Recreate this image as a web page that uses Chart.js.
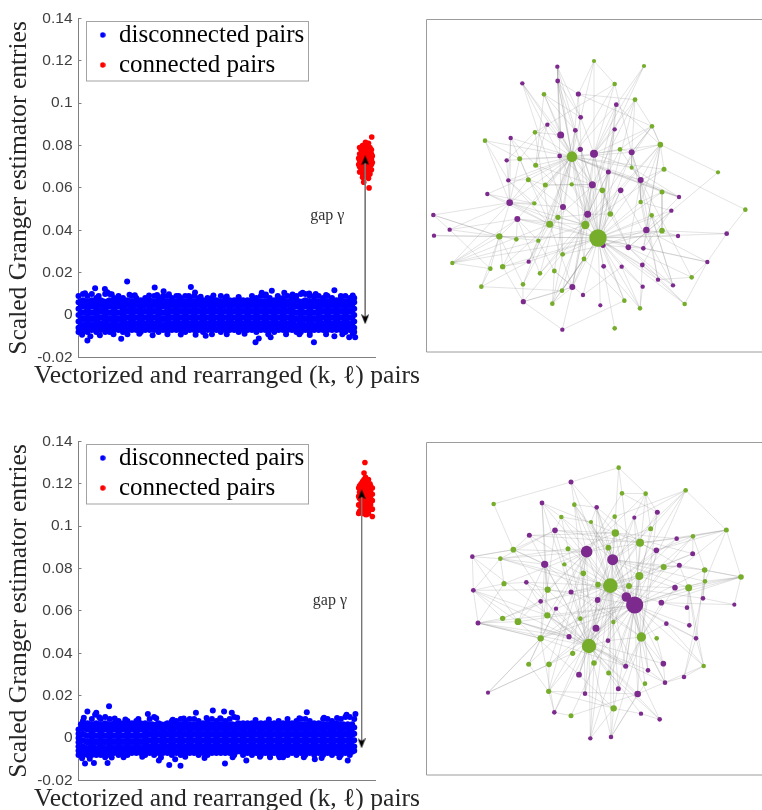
<!DOCTYPE html>
<html><head><meta charset="utf-8">
<style>html,body{margin:0;padding:0;background:#fff;width:762px;height:810px;overflow:hidden}canvas{position:absolute;display:block}</style>
<script src="https://cdn.jsdelivr.net/npm/chart.js@4"></script></head>
<body>
<canvas id="topScatter" width="454" height="395" style="left:0;top:0"></canvas>
<canvas id="topNetwork" width="342" height="350" style="left:420px;top:10px"></canvas>
<canvas id="bottomScatter" width="454" height="395" style="left:0;top:423px"></canvas>
<canvas id="bottomNetwork" width="342" height="350" style="left:420px;top:435px"></canvas>
<script>
// ---- shared labels ----
const yTickLabels = ['-0.02','0','0.02','0.04','0.06','0.08','0.1','0.12','0.14'];
const seriesNames = ['disconnected pairs','connected pairs'];
const xAxisTitle = 'Vectorized and rearranged (k, \u2113) pairs';
const yAxisTitle = 'Scaled Granger estimator entries';
const gapLabel = 'gap \u03B3';
// ---- scatter values: ranks in 1/1000 of axis, values in 1/1000 ----
const blueRanks = [0,15,30,45,60,75,90,105,120,135,150,165,180,195,210,225,240,255,270,285,300,315,330,345,360,375,390,405,420,435,450,465,480,495,510,525,540,555,570,585,600,615,630,645,660,675,690,705,720,735,750,765,780,795,810,825,840,855,870,885,900,915,930];
const blueFillRanks = [8,23,38,53,68,83,98,113,128,143,158,173,188,203,218,233,248,263,278,293,308,323,338,353,368,383,398,413,428,443,458,473,488,503,518,533,548,563,578,593,608,623,638,653,668,683,698,713,728,743,758,773,788,803,818,833,848,863,878,893,908,923];
const blueFillValues = [6.5,4.5,1.5,-1.5,-4.5,-6.5];
const topBlue = [
[9,6,3,0,-3,-6,-8],[10,7,4,1,-2,-5,-8],[9,6,3,0,-3,-6,-8],[10,7,4,1,-2,-5,-7],[8,6,3,0,-3,-6,-8],[7,5,2,-1,-4,-7],[10,6,3,0,-3,-6,-8],[10,7,4,1,-2,-5,-8],[8,6,3,0,-3,-6,-7],[9,7,4,1,-2,-5,-7],[8,6,3,0,-3,-6,-8],[7,5,2,-1,-4,-7],[9,6,3,0,-3,-6,-7],[8,5,2,-1,-4,-7],[7,6,3,0,-3,-6,-8],[8,5,2,-1,-4,-7],[7,6,3,0,-3,-6,-7],[9,5,2,-1,-4,-7],[8,6,3,0,-3,-6,-8],[9,7,4,1,-2,-5,-7],[9,6,3,0,-3,-6,-8],[8,5,2,-1,-4,-7],[9,6,3,0,-3,-6,-7],[8,5,2,-1,-4,-7],[9,6,3,0,-3,-6,-8],[8,5,2,-1,-4,-7],[9,6,3,0,-3,-6,-7],[8,5,2,-1,-4,-7],[7,6,3,0,-3,-6,-8],[8,5,2,-1,-4,-7],[8,6,3,0,-3,-6,-7],[7,5,2,-1,-4,-7],[9,6,3,0,-3,-6,-8],[8,5,2,-1,-4,-7],[7,6,3,0,-3,-6,-7],[7,5,2,-1,-4,-7],[8,6,3,0,-3,-6,-8],[7,5,2,-1,-4,-7],[7,6,3,0,-3,-6,-7],[7,5,2,-1,-4,-7],[8,6,3,0,-3,-6,-8],[9,5,2,-1,-4,-7],[9,6,3,0,-3,-6,-7],[8,5,2,-1,-4,-7],[7,6,3,0,-3,-6,-8],[8,5,2,-1,-4,-7],[8,6,3,0,-3,-6,-7],[9,5,2,-1,-4,-7],[8,6,3,0,-3,-6,-7],[9,7,4,1,-2,-5,-8],[10,6,3,0,-3,-6,-8],[10,7,4,1,-2,-5,-7],[9,6,3,0,-3,-6,-8],[9,7,4,1,-2,-5,-7],[9,6,3,0,-3,-6,-7],[8,5,2,-1,-4,-7],[9,6,3,0,-3,-6,-7],[8,5,2,-1,-4,-7],[7,6,3,0,-3,-6,-7],[8,5,2,-1,-4,-7],[9,6,3,0,-3,-6,-8],[8,5,2,-1,-4,-7],[8,6,3,0,-3,-6,-8]
];
const topBlueOutlierRanks = [164,379,257,56,89,863,652,694,393,756,618,287,30,144,794,597,608,429,863,913,933,648,22,68,97,112,172,190,238,265,305,338,372,412,455,500,540,585,632,672,722,778,800,835,885,925,12,40,72,118,165,205,250,300,345,395,450,500,560,640,700,745,780,835,890,925];
const topBlueOutlierValues = [15.9,13.3,13,12.6,12.3,11.7,11.5,10.5,10.6,10.5,10.5,11.3,-12,-11.2,-12.8,-12.8,-11,-9.8,-10,-10.5,-10.5,-10.5,10.3,9,10.8,9.8,9.6,9.4,9.2,9.5,9.8,9,9,8.6,9.2,8.8,8.5,9,9.7,9,9.7,10.2,9.9,9.5,9,9.2,-9.3,-10,-9.5,-9,-9,-8.8,-9.5,-9,-9.2,-9.3,-9,-9,-8.8,-9,-9,-9,-9.4,-9,-9,-8.8];
const topRedRanks = [948,948,948,948,948,958,958,958,958,958,958,958,968,968,968,968,968,968,968,978,978,978,978,978,978,978,988,988,988,988,988,989,980,962,953,953,953,953,963,963,963,963,963,973,973,973,973,973,973,983,983,983,983,983,983,945,945,991,991];
const topRedValues = [79,76,73,70,67.5,80,77,74.5,72,69,66.5,65,81.5,79,76,73.5,71,68.5,66,81,78,75,72,69.5,67,64.5,78,76,73.5,71,68.5,84,60,62.7,78,75,72,69,78,75.5,73,70.5,68,80,77.5,75,72.5,70,67.5,79,76.5,74,71.5,69,66.5,74,71,75,72];
const topArrowRank = [967,967];
const topArrowValues = [73,-2];
const topGapPosition = [839,47];

const bottomBlue = [
[4,2,0,-2,-4,-6,-8],[8,5,2,-1,-4,-7,-8],[7,4,1,-2,-5,-8],[9,6,3,0,-3,-6,-8],[12,7,4,1,-2,-5,-8],[9,6,3,0,-3,-6,-8],[10,7,4,1,-2,-5,-7],[9,6,3,0,-3,-6,-8],[7,4,1,-2,-5,-7],[8,6,3,0,-3,-6,-8],[7,4,1,-2,-5,-7],[8,6,3,0,-3,-6,-8],[7,4,1,-2,-5,-7],[8,6,3,0,-3,-6,-7],[7,4,1,-2,-5,-7],[7,6,3,0,-3,-6,-8],[9,5,2,-1,-4,-7],[10,6,3,0,-3,-6,-8],[7,5,2,-1,-4,-7],[6,3,0,-3,-5,-7],[7,5,2,-1,-4,-7],[8,6,3,0,-3,-6,-8],[8,5,2,-1,-4,-7],[9,6,3,0,-3,-6,-8],[8,5,2,-1,-4,-7],[9,6,3,0,-3,-6,-7],[9,5,2,-1,-4,-7],[8,6,3,0,-3,-6,-8],[7,5,2,-1,-4,-7],[8,6,3,0,-3,-6,-8],[9,5,2,-1,-4,-7],[8,6,3,0,-3,-6,-7],[9,5,2,-1,-4,-7],[8,6,3,0,-3,-6,-7],[9,5,2,-1,-4,-7],[10,6,3,0,-3,-6,-8],[7,5,2,-1,-4,-6],[7,6,3,0,-3,-6,-8],[7,5,2,-1,-4,-7],[7,6,3,0,-3,-6,-8],[7,5,2,-1,-4,-7],[7,6,3,0,-3,-6,-8],[7,5,2,-1,-4,-7],[7,6,3,0,-3,-6,-8],[7,5,2,-1,-4,-7],[8,6,3,0,-3,-6,-8],[7,5,2,-1,-4,-7],[7,6,3,0,-3,-6,-8],[7,5,2,-1,-4,-7],[8,6,3,0,-3,-6,-8],[9,5,2,-1,-4,-7],[9,6,3,0,-3,-6,-8],[8,5,2,-1,-4,-7],[7,6,3,0,-3,-6,-8],[7,5,2,-1,-4,-7],[9,6,3,0,-3,-6,-8],[9,5,2,-1,-4,-7],[8,6,3,0,-3,-6,-8],[7,5,2,-1,-4,-7],[9,6,3,0,-3,-6,-8],[10,5,2,-1,-4,-7],[10,6,3,0,-3,-6,-8],[9,5,2,-1,-4,-6]
];
const bottomBlueOutlierRanks = [103,30,453,770,491,396,56,934,904,234,517,22,52,98,271,306,344,494,566,908,326,797,90,646,678,18,70,122,158,202,262,318,355,432,478,535,597,642,705,745,828,872,12,38,112,152,215,278,360,425,520,612,690,760,820,880];
const bottomBlueOutlierValues = [15,12.5,13,12.2,12.5,12,11,11.4,11,11.4,12,-12,-11.7,-11.7,-10.6,-12.7,-13,-12,-10.6,-10.6,-10,-10,-9,-9,-9,9.6,9.8,9.2,8.8,9,9.3,8.6,9.2,9.5,9.4,9.6,8.5,8.8,9,9.4,9.6,9.5,-9.5,-9.8,-9.2,-9,-8.8,-9.2,-8.8,-9.4,-9,-8.8,-9,-9.1,-9.4,-9];
const bottomRedRanks = [948,948,948,948,948,958,958,958,958,958,958,968,968,968,968,968,968,968,978,978,978,978,978,978,985,985,985,985,966,963,991,972,953,953,953,953,953,963,963,963,963,963,963,973,973,973,973,973,973,983,983,983,983,983,991,991,991,991,945,945,945,945];
const bottomRedValues = [119,116,113,110,107,121,118,115,112,109,106,123,120,117,114,111,108,105.5,122,119,116,113,110,106,119,116,113,110,130,125,104.5,105.5,120,117,114,111,108,122,119,116,113,110,107,121,118,115,112,109,106.5,120,117,114,111,108,118,115,112,108,118,114,110,106];
const bottomArrowRank = [955,955];
const bottomArrowValues = [115,-2.5];
const bottomGapPosition = [848,64.8];

// ---- network nodes: positions on a 0..1026 plane, node radius ----
const topPurpleX = [412,307,413,475,589,482,382,466,584,422,272,522,481,419,635,260,565,265,662,517,602,202,777,269,429,754,503,40,292,89,679,42,774,920,549,625,670,326,862,551,605,667,714,668,759,457,489,310,541,427];
const topPurpleY = [170,220,213,252,284,322,344,361,358,375,384,431,418,438,427,451,486,511,510,524,541,552,561,578,591,602,613,615,627,659,660,677,678,671,706,712,715,755,756,769,770,765,809,830,826,831,855,875,886,959];
const topPurpleR = [2.2,2.2,2.4,2.6,2.4,2.4,2.2,2.4,2.2,3.5,2.2,4,2.6,2.4,3,2.2,2.5,2.2,3,3.5,2.8,2.2,2.2,3.3,3,2.2,3.5,2.3,3,2.2,3.2,2.2,2.2,2.4,2.6,2.8,2.3,2.2,2.2,2.4,2.2,2.4,2.2,2.2,2.2,3,2.2,2.6,2.1,2.2];
const topGreenX = [522,672,584,372,645,696,345,195,721,600,456,299,347,635,732,894,325,376,455,547,726,662,343,976,571,414,695,389,496,726,534,238,289,355,428,492,97,248,211,403,360,815,309,184,426,613,397,660,794,584];
const topGreenY = [153,168,222,253,269,349,367,392,404,418,440,446,466,473,478,487,509,525,523,541,546,576,580,599,612,622,616,643,645,662,684,679,688,692,733,747,759,770,776,783,790,802,823,830,842,872,881,895,882,955];
const topGreenR = [2.1,2.1,2.3,2.3,2.4,2.3,2.3,2.3,2.8,2.3,5.3,2.5,2.5,2.1,2.5,2.1,2.5,2.5,2.2,2.8,2.5,2.2,2.2,2.3,2.8,2.6,2.3,3.5,4.2,2.8,8.7,3.2,2.3,2.2,2.4,2.4,2.2,2.7,2.3,2.4,2.3,2.3,2.3,2.3,2.3,2.3,2.3,2.3,2.3,2.3];
const topLinks = {
 g30:'p31 p33 p38 p44 p42 p43 p41 p40 p39 p48 g49 g45 g47 g48 p46 p45 g44 g46 g35 g34 p37 g37 g36 p23 p28 g31 g27 g28 p26 p24 g24 g19 p20 p18 p14 p8 p4 g4 p19 p11 g18 p12 g10 p16 g21 g26 g29 p30 p25 g20 p32 p36 p35',
 g10:'p0 p1 p2 p3 p5 p6 p7 p9 p10 p12 p13 p15 p11 p14 p16 p18 p17 p19 p21 p23 p24 p26 p28 g7 g3 g2 g6 g11 g12 g14 g13 g16 g17 g20 g22 g27 g40 p37 p34 g35 p22 g42 g39',
 p11:'g0 g1 g2 g4 g8 g9 p8 p4 p5 g13 g19 g24 g35 p45 g18 g5',
 g28:'p2 p3 p24 p23 p28 g25 g33 g40 p20 p4 p8 g8 g14 g5 p45 p47',
 p9:'p1 p2 g3 g6 p19 p0',
 p19:'p13 g18 p2 p7 g17 g12 p45 g44',
 g27:'p21 p23 p24 p28 p37 p45 g6 g11 p17 g36 p16 p7',
 p23:'p10 p27 p29 g11 g16 g31 g36 g22 p24',
 g31:'p27 p29 p31 g32 g33 g37 g38 g43 g36 p28',
 p26:'g24 g25 p13 g9 p16 g40 g12',
 p18:'g14 g20 p22 p35 g41 p42 g9 p14 g8 g13 g21 p16',
 p14:'g5 g9 g8 g4 g13 p42 p44',
 g8:'g15 g5 p4 p36 p20 g14 p30 g21',
 g15:'p35',
 g23:'g14 p33',
 p33:'p38 g29',
 p38:'g48 g41 p36 p30',
 g41:'p42 p35',
 p44:'g26 p35 p20',
 g48:'p41 p35',
 g20:'g29 p22 g21',
 p22:'g13 p16 p30',
 p25:'p35 g21 p36',
 p27:'p29 g31',
 p29:'g38 p28',
 g36:'g38 p28 g33',
 g43:'g38 g44 p37',
 g37:'p47 g32 g27 p37',
 p47:'p49 g44 p45 g42',
 p49:'g45 p45',
 g42:'g31 p24',
 g46:'g39 g34 p26',
 p46:'g39 p40',
 g45:'g35 p34',
 p41:'g47',
 p43:'g47 p40',
 g47:'p40 p39',
 g7:'p17 g11 p23',
 p21:'g22 p23',
 p15:'g6 p23',
 p10:'g11 p17 g12',
 p17:'g16 g22',
 g16:'g11 g17 p24 g25',
 g18:'g17 g19',
 g0:'p3 g2 p5',
 g1:'p8 p4',
 g2:'p14 g6',
 g3:'p5 p7 g12',
 p3:'p2 g4 g5',
 p4:'g17 p34',
 g4:'g5 p19',
 g5:'g8 g9 p14',
 p6:'g11 g12',
 p0:'p2 p7 p5',
 p2:'g34 p5',
 p1:'p13 p24',
 p28:'g33 g32 g40',
 g33:'g39 p37',
 g34:'g25 p34',
 g35:'p45 g44 g46',
 p45:'g46 g44 g39',
 g29:'p32 g26 p41 p34',
 p30:'p32 g21 p34',
 p36:'g26 p34',
 p35:'g24 g19',
 g24:'p20 p16 g19'
};

const bottomPurpleX = [453,366,530,712,643,405,328,770,500,709,818,578,157,374,778,319,765,160,453,849,533,619,644,362,724,943,408,801,174,739,808,528,447,828,564,730,617,684,477,792,735,595,204,495,653,403,663,719,511,573];
const bottomPurpleY = [141,204,217,232,248,286,301,311,350,346,356,374,365,388,391,442,458,466,471,490,495,486,510,499,503,509,521,518,564,566,571,580,605,610,617,686,694,706,719,726,743,761,773,776,777,832,836,853,910,906];
const bottomPurpleR = [2.5,2.4,2.3,2.5,2.1,2.8,2.5,2.3,5.8,2.8,2.5,5.5,2.3,3.6,2.5,2.3,2.8,2.4,2.5,2.3,2.9,4.8,8.6,2.3,2.8,2.1,2.2,2.3,2.5,2.3,2.3,3.5,2.6,2.3,2.3,2.8,2.5,2.3,2.9,2.3,2.3,2.5,2.1,2.3,3.3,2.3,2.2,2.3,2.2,2.3];
const bottomGreenX = [596,797,606,677,221,463,424,584,513,692,919,586,819,660,444,565,280,241,433,731,854,490,658,963,855,252,534,571,627,383,806,382,248,294,481,580,362,664,710,507,458,326,387,522,851,566,675,386,581,453];
const bottomGreenY = [98,166,175,176,207,209,246,245,261,281,285,294,304,323,341,338,344,371,388,396,405,415,423,426,439,446,449,452,453,464,458,541,550,560,551,561,610,606,610,633,655,688,688,684,693,714,746,769,820,842];
const bottomGreenR = [2.3,2.3,2.3,2.3,2.3,2.3,2.3,2.3,2.1,2.5,2.5,3.7,2.3,4,2.5,2.8,2.8,2.3,2.2,3,2.8,2.8,4,2.8,2.3,2.6,2.8,7.3,3,3.1,3.5,3.2,2.7,3.4,2.3,2.2,3.2,4.7,2.3,7.2,2.6,2.5,2.8,2.8,2.3,2.5,2.3,2.6,3.2,2.5];
const bottomLinks = {
 p22:'g2 g3 g7 g9 g1 g10 g12 g13 g19 g20 g22 g23 g24 g28 g30 g35 g37 g38 g39 g40 g43 g44 g45 g46 g48 g21 g14 g15 g16 g33 g34 g29 g31 g36 g42 g18 p48 p44 p35 p36 p37 p29 p30 p33',
 g27:'p0 p1 p2 p3 p4 p5 p6 p7 p9 p10 p8 p11 p14 p15 p16 p18 p19 p20 p23 p24 p26 p31 p32 p34 p36 p38 p41 p43 p45 p48 p49 g5 g8 g17 g36 g41 g47',
 g39:'p8 p5 p6 p12 p13 p15 p17 p18 p20 p26 p28 p31 p32 p34 p36 p37 p38 p40 p41 p43 p44 p45 p46 p47 p48 p49 p11 p21 g33 g31 g5 g6 g1 p9',
 p8:'g2 g5 g6 g7 g9 g10 g14 g16 g17 g18 g21 g25 g26 g29 g31 g33 g36 g40 g42 g47 g3',
 p11:'g1 g3 g5 g6 g8 g9 g11 g13 g15 g19 g20 g22 g24 g26 g28 g37 g48 g45 g30',
 p21:'g8 g11 g15 g35 g36 g42 g47 g49 g17 g12',
 g37:'p2 p3 p4 p9 p18 p16 p24 p29 p35 p40 p41 p44 p49 p34 p36 p13',
 g22:'p3 p7 p10 p16 p18 p20 p37 p36',
 g13:'p4 p2 p5 p6 p7 p14 p20',
 g11:'p0 p1 p5 p6 p7 p9 p13 p10 p38 p32',
 g29:'p1 p15 p17 p13 p18 p36',
 g33:'p12 p17 p28 p32 p13 p38 p35',
 g36:'p13 p28 p42 p5 p36 p45',
 g31:'p1 p15 p17 p28 p36 p32',
 g16:'p12 p6 p13 p32 p5',
 g4:'p0 g16',
 g0:'p0 g2 g3 p11',
 g2:'g3',
 g1:'g10 g9 p4 g7',
 g10:'p9 p7 g23 g12 g24',
 g23:'p25 g24 g20 p16 p24 g30 p14',
 p25:'p19 p24',
 p12:'g16 g17 p17',
 p17:'p28 g25 g17',
 g17:'g25 p5 g14 p13',
 g25:'p15 p28',
 g32:'p17 p23 p18',
 p28:'g32 g36 p32',
 p42:'g36 g42 g40',
 g41:'g36 g47 p26',
 g47:'p44 p45 g42 g48',
 g49:'p44 p45',
 p48:'g48 g43',
 p49:'g48 p44 g46',
 p47:'p46 g45 g35',
 p46:'g48',
 g48:'p38 p43',
 g44:'p33 p39 p44 p29 g30',
 p39:'p40 g24 p33',
 p33:'g30 p29 g20',
 p35:'g38 p40',
 p40:'g37 p37',
 p30:'g30',
 p27:'g30 p24',
 p19:'g20 g24',
 g12:'p7 p10 g20 p9',
 p3:'g3 g2',
 g3:'g9',
 p14:'g19 g30',
 p1:'g6 p18',
 g5:'p0 p2 g15',
 g6:'g8 p5',
 p2:'g8 g15 p31',
 g21:'p31 p43'
};

// ---- helpers ----
function dotImage(color, boxSize, r){
  const c = document.createElement('canvas'); c.width = c.height = boxSize;
  const x = c.getContext('2d'); x.fillStyle = color; x.beginPath();
  x.arc(boxSize/2, boxSize/2, r, 0, Math.PI*2); x.fill(); return c;
}
function arrowImage(){
  const c = document.createElement('canvas'); c.width = 8; c.height = 10;
  const x = c.getContext('2d'); x.fillStyle = '#000'; x.beginPath();
  x.moveTo(4,0); x.lineTo(8,10); x.lineTo(4,7.5); x.lineTo(0,10); x.closePath(); x.fill(); return c;
}
const gapPlugin = {
  id:'gapAndFrame',
  afterLayout(chart, args, opts){
    chart.legend.left = 93.9; chart.legend.top = opts.legendTop;
    chart.titleBlock.right = chart.width;
  },
  beforeDatasetsDraw(chart, args, opts){
    const c = chart.ctx; c.save(); c.strokeStyle = '#a3a3a3'; c.lineWidth = 1;
    c.strokeRect(86.5, opts.frameTop, 222, 59.5); c.restore();
  },
  afterDatasetsDraw(chart, args, opts){
    const c = chart.ctx; c.save(); c.fillStyle = '#333'; c.font = '16px "Liberation Serif"';
    c.textAlign = 'center'; c.textBaseline = 'middle';
    c.fillText(gapLabel, chart.scales.x.getPixelForValue(opts.pos[0]), chart.scales.y.getPixelForValue(opts.pos[1]/1000));
    c.restore();
  }
};
function buildScatter(id, columns, outX, outY, redX, redY, arrowX, arrowY, gapPos){
  const blue = [];
  columns.forEach((col,i)=>col.forEach(v=>blue.push({x:blueRanks[i],y:v/1000})));
  blueFillRanks.forEach(r=>blueFillValues.forEach(v=>blue.push({x:r,y:v/1000})));
  outX.forEach((r,i)=>blue.push({x:r,y:outY[i]/1000}));
  const red = redX.map((r,i)=>({x:r,y:redY[i]/1000}));
  const arrow = arrowX.map((r,i)=>({x:r,y:arrowY[i]/1000}));
  const head = arrowImage();
  new Chart(document.getElementById(id),{
    type:'scatter',
    data:{datasets:[
      {label:seriesNames[0],data:blue,backgroundColor:'#0000ff',pointRadius:3,pointBorderWidth:0,clip:false,order:2},
      {label:seriesNames[1],data:red,backgroundColor:'#ff0000',pointRadius:2.8,pointBorderWidth:0,clip:false,order:1},
      {label:'gap',data:arrow,showLine:true,borderColor:'#777',borderWidth:1,pointRadius:4,pointStyle:head,pointRotation:[0,180],clip:false,order:0}
    ]},
    options:{
      responsive:false,animation:false,events:[],
      layout:{autoPadding:false,padding:{top:14.5,left:0,right:79,bottom:0}},
      scales:{
        x:{type:'linear',min:0,max:1000,
           afterFit(s){s.height=0;},
           border:{color:'#808080',width:1},
           grid:{display:true,drawOnChartArea:false,drawTicks:false},
           ticks:{display:false}},
        y:{type:'linear',min:-0.02,max:0.14,
           afterFit(s){s.width=78.5;},
           afterBuildTicks(s){s.ticks=yTickLabels.map(t=>({value:+t}));},
           border:{color:'#808080',width:1},
           grid:{drawOnChartArea:false,drawTicks:true,tickLength:-3,tickColor:'#808080'},
           ticks:{color:'#404040',padding:9,font:{family:'"Liberation Sans"',size:15.5},callback:(v,i)=>yTickLabels[i]},
           title:{display:true,text:yAxisTitle,color:'#262626',font:{family:'"Liberation Serif"',size:25.5},padding:{top:4,bottom:0}}}
      },
      plugins:{
        tooltip:{enabled:false},
        title:{display:true,position:'bottom',text:xAxisTitle,color:'#262626',font:{family:'"Liberation Serif"',size:25.6,weight:'normal'},padding:{top:3,bottom:3.8}},
        gapAndFrame:{pos:gapPos,legendTop:17.5,frameTop:21.5},
        legend:{position:'chartArea',align:'start',
          labels:{usePointStyle:true,boxWidth:7.6,boxHeight:7.6,padding:5,color:'#1a1a1a',
            font:{family:'"Liberation Serif"',size:25},
            generateLabels:()=>[
              {text:seriesNames[0],pointStyle:dotImage('#0000ff',6,2.7),fillStyle:'#0000ff',strokeStyle:'#0000ff',lineWidth:0,datasetIndex:0,hidden:false},
              {text:seriesNames[1],pointStyle:dotImage('#ff0000',6,2.7),fillStyle:'#ff0000',strokeStyle:'#ff0000',lineWidth:0,datasetIndex:1,hidden:false}
            ]}}
      }
    },
    plugins:[gapPlugin]
  });
}
const netFrame = {
  id:'netFrame',
  beforeDatasetsDraw(chart){
    const a = chart.chartArea, c = chart.ctx; c.save(); c.strokeStyle='#9c9c9c'; c.lineWidth=1; c.beginPath();
    c.moveTo(chart.width,a.top); c.lineTo(a.left,a.top); c.lineTo(a.left,a.bottom); c.lineTo(chart.width,a.bottom); c.stroke(); c.restore();
  }
};
function buildNetwork(id, px, py, pr, gx, gy, gr, links, padTop, padBottom){
  const pos = k => { const i=+k.slice(1); return k[0]==='p'?{x:px[i],y:py[i]}:{x:gx[i],y:gy[i]}; };
  const sets = [];
  Object.keys(links).forEach(a=>links[a].split(' ').forEach(b=>{
    sets.push({type:'line',data:[pos(a),pos(b)],borderColor:'rgba(140,140,140,0.27)',borderWidth:0.9,pointRadius:0,showLine:true,order:5});
  }));
  sets.push({type:'scatter',data:px.map((x,i)=>({x,y:py[i]})),backgroundColor:'#7d2a8e',pointRadius:pr,pointBorderWidth:0,order:1});
  sets.push({type:'scatter',data:gx.map((x,i)=>({x,y:gy[i]})),backgroundColor:'#76ad2b',pointRadius:gr,pointBorderWidth:0,order:0});
  new Chart(document.getElementById(id),{
    type:'scatter',
    data:{datasets:sets},
    options:{responsive:false,animation:false,events:[],
      layout:{autoPadding:false,padding:{left:6.5,top:padTop,right:0,bottom:padBottom}},
      scales:{
        x:{type:'linear',display:false,min:19.5,max:1026},
        y:{type:'linear',display:false,reverse:true,min:padTop*3,max:(350-padBottom)*3}
      },
      plugins:{legend:{display:false},tooltip:{enabled:false}}
    },
    plugins:[netFrame]
  });
}
buildScatter('topScatter',topBlue,topBlueOutlierRanks,topBlueOutlierValues,topRedRanks,topRedValues,topArrowRank,topArrowValues,topGapPosition);
buildScatter('bottomScatter',bottomBlue,bottomBlueOutlierRanks,bottomBlueOutlierValues,bottomRedRanks,bottomRedValues,bottomArrowRank,bottomArrowValues,bottomGapPosition);
buildNetwork('topNetwork',topPurpleX,topPurpleY,topPurpleR,topGreenX,topGreenY,topGreenR,topLinks,9.5,8);
buildNetwork('bottomNetwork',bottomPurpleX,bottomPurpleY,bottomPurpleR,bottomGreenX,bottomGreenY,bottomGreenR,bottomLinks,7.5,10);
</script>
</body></html>
